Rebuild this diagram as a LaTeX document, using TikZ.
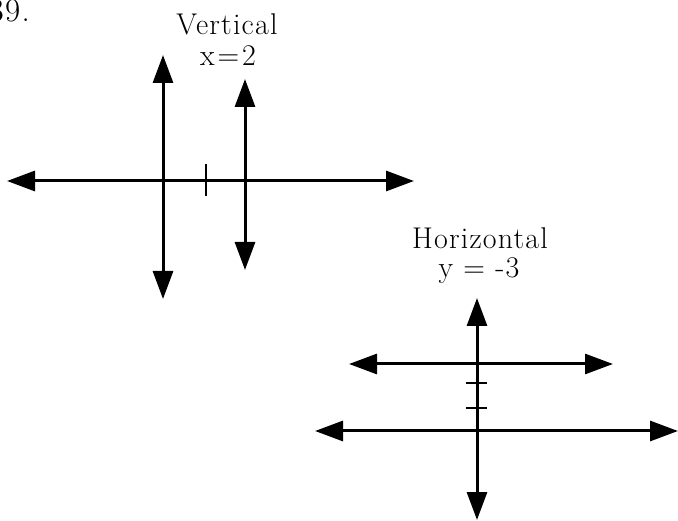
\documentclass[tikz,border=0pt]{standalone}
\usepackage{fontspec}
\setmainfont{Latin Modern Roman}[LetterSpace=4]
\usetikzlibrary{arrows.meta}
\begin{document}
\begin{tikzpicture}[x=1pt,y=-1pt,
  axis/.style={line width=3pt,{Triangle[length=28pt,width=20pt]}-{Triangle[length=28pt,width=20pt]}},
  tick/.style={line width=2.2pt},
  lbl/.style={inner sep=0pt,font=\fontsize{30}{32}\selectfont}]
\useasboundingbox (0,0) rectangle (678,521);
% label
\node[lbl,anchor=base east,font=\fontsize{33}{35}\selectfont] (num) at (30,22) {39.};
% left figure
\coordinate (hL) at (7,181);
\coordinate (hR) at (414,181);
\coordinate (yT) at (163,55);
\coordinate (yB) at (163,299);
\coordinate (vT) at (245,79);
\coordinate (vB) at (245,270);
\coordinate (t1a) at (206,164);
\coordinate (t1b) at (206,196);
\draw[axis] (hL) -- (hR);
\draw[axis] (yT) -- (yB);
\draw[axis] (vT) -- (vB);
\draw[tick] (t1a) -- (t1b);
\node[lbl] (vert) at (227,24) {Vertical};
\node[lbl] (veq) at (228,56) {x\kern3pt=\kern3pt2};
% right figure
\coordinate (aT) at (477,298);
\coordinate (aB) at (477,520);
\coordinate (uL) at (349,364);
\coordinate (uR) at (613,364);
\coordinate (lL) at (315,431);
\coordinate (lR) at (678,431);
\coordinate (k1a) at (466,383);
\coordinate (k1b) at (487,383);
\coordinate (k2a) at (466,408);
\coordinate (k2b) at (487,408);
\draw[axis] (aT) -- (aB);
\draw[axis] (uL) -- (uR);
\draw[axis] (lL) -- (lR);
\draw[tick] (k1a) -- (k1b);
\draw[tick] (k2a) -- (k2b);
\node[lbl] (horz) at (480,238) {Horizontal};
\node[lbl] (heq) at (479,271) {y = -3};
\end{tikzpicture}
\end{document}
